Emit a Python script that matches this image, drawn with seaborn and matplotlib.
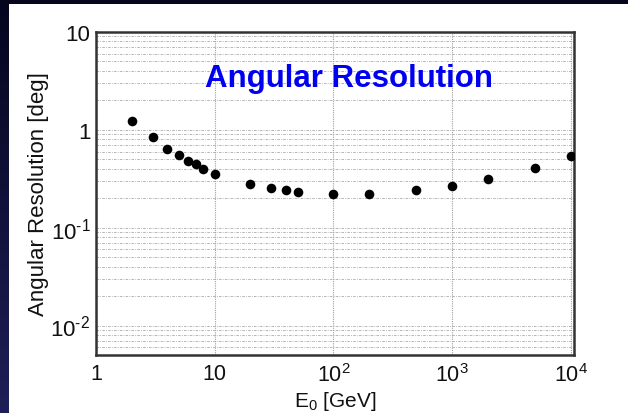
import numpy as np
import pandas as pd
import matplotlib
matplotlib.use("Agg")
import matplotlib.pyplot as plt
import matplotlib.ticker as mticker
from matplotlib.patches import Rectangle
import seaborn as sns

# ---- data ----
energy_gev = [2, 3, 4, 5, 6, 7, 8, 10, 20, 30, 40, 50, 100, 200, 500, 1000, 2000, 5000, 10000]
resolution_deg = [1.22, 0.855, 0.63, 0.548, 0.476, 0.444, 0.398, 0.351, 0.282, 0.257, 0.245,
                  0.232, 0.222, 0.222, 0.245, 0.265, 0.313, 0.404, 0.544]
x_ticks = [1, 10, 100, 1000, 10000]
x_tick_labels = ["1", "10", "$10^{2}$", "$10^{3}$", "$10^{4}$"]
y_ticks = [0.01, 0.1, 1, 10]
y_tick_labels = [r"$10^{\text{-}2}$", r"$10^{\text{-}1}$", "1", "10"]
title_text = "Angular Resolution"
x_label = "E$_{0}$ [GeV]"
y_label = "Angular Resolution [deg]"

df = pd.DataFrame({"E": energy_gev, "res": resolution_deg})

sns.set_style("white")
plt.rcParams["font.family"] = ["Liberation Sans", "DejaVu Sans"]
plt.rcParams["mathtext.fontset"] = "custom"
plt.rcParams["mathtext.rm"] = "Liberation Sans"
plt.rcParams["mathtext.it"] = "Liberation Sans:italic"
plt.rcParams["mathtext.bf"] = "Liberation Sans:bold"

W, H = 628, 414
fig = plt.figure(figsize=(W / 100, H / 100), dpi=100)

# dark navy gradient background
bg = fig.add_axes([0, 0, 1, 1], zorder=-10)
top_c = np.array([0x05, 0x05, 0x1e]) / 255.0
bot_c = np.array([0x1e, 0x1f, 0x56]) / 255.0
t = np.linspace(0, 1, 256)[:, None]
grad = top_c[None, :] * (1 - t) + bot_c[None, :] * t
grad = np.repeat(grad[:, None, :], 4, axis=1)
bg.imshow(grad, aspect="auto", extent=[0, 1, 0, 1], origin="upper")
bg.add_patch(Rectangle((9 / W, 0), 1 - 9 / W, (H - 5) / H, facecolor="white",
                       edgecolor="none", transform=bg.transAxes))
bg.set_xlim(0, 1)
bg.set_ylim(0, 1)
bg.axis("off")

ax = fig.add_axes([96 / W, (H - 356) / H, (574 - 96) / W, (356 - 33) / H])
ax.set_facecolor("white")

sns.scatterplot(data=df, x="E", y="res", ax=ax, color="black", s=48,
                edgecolor="black", linewidth=0, zorder=5, legend=False)

ax.set_xscale("log")
ax.set_yscale("log")
ax.set_xlim(1, 1.06e4)
ax.set_ylim(0.005, 10)

ax.xaxis.set_major_locator(mticker.FixedLocator(x_ticks))
ax.xaxis.set_major_formatter(mticker.FixedFormatter(x_tick_labels))
ax.xaxis.set_minor_locator(mticker.LogLocator(base=10, subs=np.arange(2, 10), numticks=20))
ax.xaxis.set_minor_formatter(mticker.NullFormatter())
ax.yaxis.set_major_locator(mticker.FixedLocator(y_ticks))
ax.yaxis.set_major_formatter(mticker.FixedFormatter(y_tick_labels))
ax.yaxis.set_minor_locator(mticker.LogLocator(base=10, subs=np.arange(2, 10), numticks=20))
ax.yaxis.set_minor_formatter(mticker.NullFormatter())

ax.tick_params(axis="both", which="major", direction="in", length=14, width=1.2,
               color="#333333", labelsize=16, labelcolor="#111111",
               top=False, right=False)
ax.tick_params(axis="both", which="minor", direction="in", length=7, width=1.0,
               color="#333333", top=False, right=False)
ax.tick_params(axis="x", which="major", length=12, pad=6, labelsize=15.5)
ax.tick_params(axis="y", which="major", pad=4)
ax.tick_params(axis="x", which="minor", length=6)

# grids
ax.grid(False)
ax.yaxis.grid(True, which="both", color="#a8a8a8", linewidth=0.6,
              linestyle=(0, (3, 1.5, 1, 1.5)), zorder=0)
ax.xaxis.grid(True, which="major", color="#a0a0a0", linewidth=0.8,
              linestyle=(0, (1, 1)), zorder=0)
ax.set_axisbelow(True)

for side in ["left", "bottom", "right", "top"]:
    ax.spines[side].set_visible(True)
    ax.spines[side].set_color("#333333")
    ax.spines[side].set_linewidth(1.8)

ax.set_xlabel(x_label, fontsize=15, color="#111111")
ax.set_ylabel(y_label, fontsize=16, color="#111111")
ax.xaxis.set_label_coords(0.5, -0.104)
ax.yaxis.set_label_coords(-0.098, 0.5)

ax.text(0.529, 0.833, title_text, transform=ax.transAxes, ha="center",
        va="baseline", fontsize=22.5, fontweight="bold", color="#0000f0", zorder=6)

fig.savefig("out.png", dpi=100)
